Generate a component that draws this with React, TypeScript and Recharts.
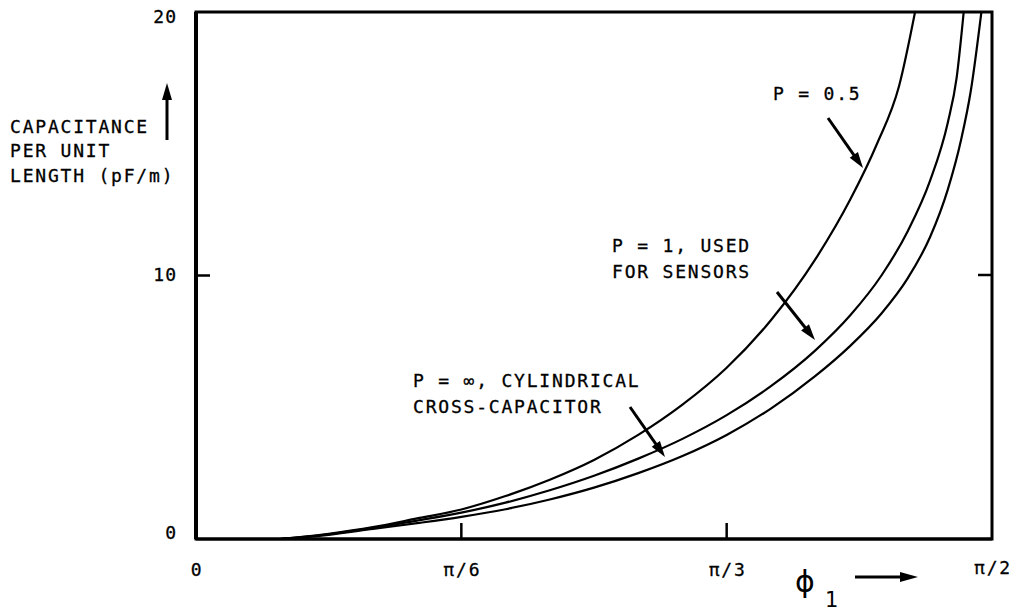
import React from "react";
import { LineChart, Line, XAxis, YAxis, ReferenceArea } from "recharts";

// x in degrees (0..90 = 0..π/2), y in pF/m
const xs05 = [9.5, 12, 15, 20, 25, 30, 35, 40, 45, 50, 55, 60, 65, 70, 74, 77, 79.5, 81.3];
const ys05 = [0, 0.08, 0.2, 0.45, 0.78, 1.12, 1.63, 2.25, 3.0, 3.95, 5.1, 6.5, 8.3, 10.6, 12.9, 15.0, 17.2, 20];
const xs1 = [9.5, 12, 15, 20, 25, 30, 35, 40, 45, 50, 55, 60, 65, 70, 74, 77.5, 80.5, 83, 85, 86, 86.8];
const ys1 = [0, 0.07, 0.18, 0.42, 0.7, 1.0, 1.38, 1.85, 2.4, 3.05, 3.8, 4.7, 5.8, 7.15, 8.5, 10.0, 11.7, 13.6, 15.8, 17.5, 20];
const xsInf = [9.5, 12, 15, 20, 25, 30, 35, 40, 45, 50, 55, 60, 65, 70, 74, 77.5, 80.5, 83, 85, 86.5, 87.6, 88.8];
const ysInf = [0, 0.06, 0.16, 0.38, 0.6, 0.84, 1.13, 1.5, 1.95, 2.5, 3.15, 3.95, 4.95, 6.18, 7.34, 8.56, 9.91, 11.46, 13.26, 15.14, 17.0, 20];

const xTicks = [0, 30, 60, 90];
const xTickLabels = ["0", "π/6", "π/3", "π/2"];
const yTicks = [0, 10, 20];
const yTickLabels = ["0", "10", "20"];

const mk = (xs: number[], ys: number[]) => xs.map((x, i) => ({ x, v: ys[i] }));
const d05 = mk(xs05, ys05);
const d1 = mk(xs1, ys1);
const dInf = mk(xsInf, ysInf);

const FONT = "'DejaVu Sans Mono', 'Liberation Mono', monospace";
const txt = { fontFamily: FONT, fontSize: 18, letterSpacing: 1.8, fill: "#000", stroke: "#000", strokeWidth: 0.3 } as const;

const XTick = (props: any) => {
  const { x, y, payload, index } = props;
  const v = payload.value;
  const i = xTicks.indexOf(v);
  const label = xTickLabels[i >= 0 ? i : index];
  const inner = v !== xTicks[0] && v !== xTicks[xTicks.length - 1];
  const dy = v === xTicks[xTicks.length - 1] ? 35 : 37;
  return (
    <g>
      {inner && <line x1={x} y1={y} x2={x} y2={y - 16} stroke="#000" strokeWidth={2.5} />}
      <text x={x + 1} y={y + dy} textAnchor="middle" {...txt}>{label}</text>
    </g>
  );
};

const YTick = (props: any) => {
  const { x, y, payload, index } = props;
  const v = payload.value;
  const i = yTicks.indexOf(v);
  const label = yTickLabels[i >= 0 ? i : index];
  const inner = v !== yTicks[0] && v !== yTicks[yTicks.length - 1];
  const shift = v === yTicks[0] ? -7 : v === yTicks[yTicks.length - 1] ? 4 : -1;
  return (
    <g>
      {inner && <line x1={x} y1={y} x2={x + 14} y2={y} stroke="#000" strokeWidth={2.5} />}
      <text x={x - 19} y={y + shift + 6.5} textAnchor="end" {...txt} letterSpacing={1}>{label}</text>
    </g>
  );
};

const Arrow = ({ x1, y1, x2, y2, w = 3, head = 16, hw = 5 }: any) => {
  const dx = x2 - x1, dy = y2 - y1;
  const L = Math.hypot(dx, dy);
  const ux = dx / L, uy = dy / L;
  const bx = x2 - ux * head, by = y2 - uy * head;
  const px = -uy * hw, py = ux * hw;
  return (
    <g>
      <line x1={x1} y1={y1} x2={bx + ux * 2} y2={by + uy * 2} stroke="#000" strokeWidth={w} />
      <polygon points={`${x2},${y2} ${bx + px},${by + py} ${bx - px},${by - py}`} fill="#000" />
    </g>
  );
};

export default function App() {
  return (
    <div style={{ position: "absolute", left: 0, top: 0, width: 1014, height: 611, background: "#fff" }}>
      <LineChart width={1014} height={611} margin={{ top: 12, right: 22, bottom: 0, left: 0 }}>
        <XAxis
          dataKey="x"
          type="number"
          domain={[0, 90]}
          ticks={xTicks}
          tickSize={0}
          tickMargin={0}
          tick={<XTick />}
          height={72}
          axisLine={{ stroke: "#000", strokeWidth: 3 }}
          allowDataOverflow
        />
        <YAxis
          type="number"
          domain={[0, 20]}
          ticks={yTicks}
          tickSize={0}
          tickMargin={0}
          tick={<YTick />}
          width={196}
          axisLine={{ stroke: "#000", strokeWidth: 4 }}
          allowDataOverflow
        />
        <ReferenceArea x1={0} x2={90} y1={0} y2={20} fill="none" stroke="#000" strokeWidth={3} ifOverflow="visible" />
        <Line data={d05} dataKey="v" type="monotone" stroke="#000" strokeWidth={2.2} dot={false} isAnimationActive={false} />
        <Line data={d1} dataKey="v" type="monotone" stroke="#000" strokeWidth={2.2} dot={false} isAnimationActive={false} />
        <Line data={dInf} dataKey="v" type="monotone" stroke="#000" strokeWidth={2.2} dot={false} isAnimationActive={false} />
      </LineChart>
      <svg width={1014} height={611} style={{ position: "absolute", left: 0, top: 0, pointerEvents: "none" }}>
        <line x1={992} y1={275} x2={978} y2={275} stroke="#000" strokeWidth={2.5} />
        <text x={10} y={133} {...txt}>CAPACITANCE</text>
        <text x={10} y={157} {...txt}>PER UNIT</text>
        <text x={10} y={182} {...txt}>LENGTH (pF/m)</text>
        <Arrow x1={167} y1={140} x2={167} y2={83} w={3} head={17} hw={5} />
        <text x={773} y={100} {...txt}>P = 0.5</text>
        <Arrow x1={828} y1={118} x2={863} y2={168} />
        <text x={612} y={252} {...txt}>P = 1, USED</text>
        <text x={612} y={278} {...txt}>FOR SENSORS</text>
        <Arrow x1={777} y1={292} x2={815} y2={340} />
        <text x={413} y={387} {...txt}>P = ∞, CYLINDRICAL</text>
        <text x={413} y={413} {...txt}>CROSS-CAPACITOR</text>
        <Arrow x1={630} y1={407} x2={665} y2={457} />
        <text x={795} y={592} fontFamily="'DejaVu Sans', sans-serif" fontSize={30} fill="#000">ϕ</text>
        <text x={825} y={607} fontFamily="'DejaVu Sans', sans-serif" fontSize={21} fill="#000">1</text>
        <Arrow x1={855} y1={577} x2={918} y2={577} w={3} head={18} hw={5} />
      </svg>
    </div>
  );
}
